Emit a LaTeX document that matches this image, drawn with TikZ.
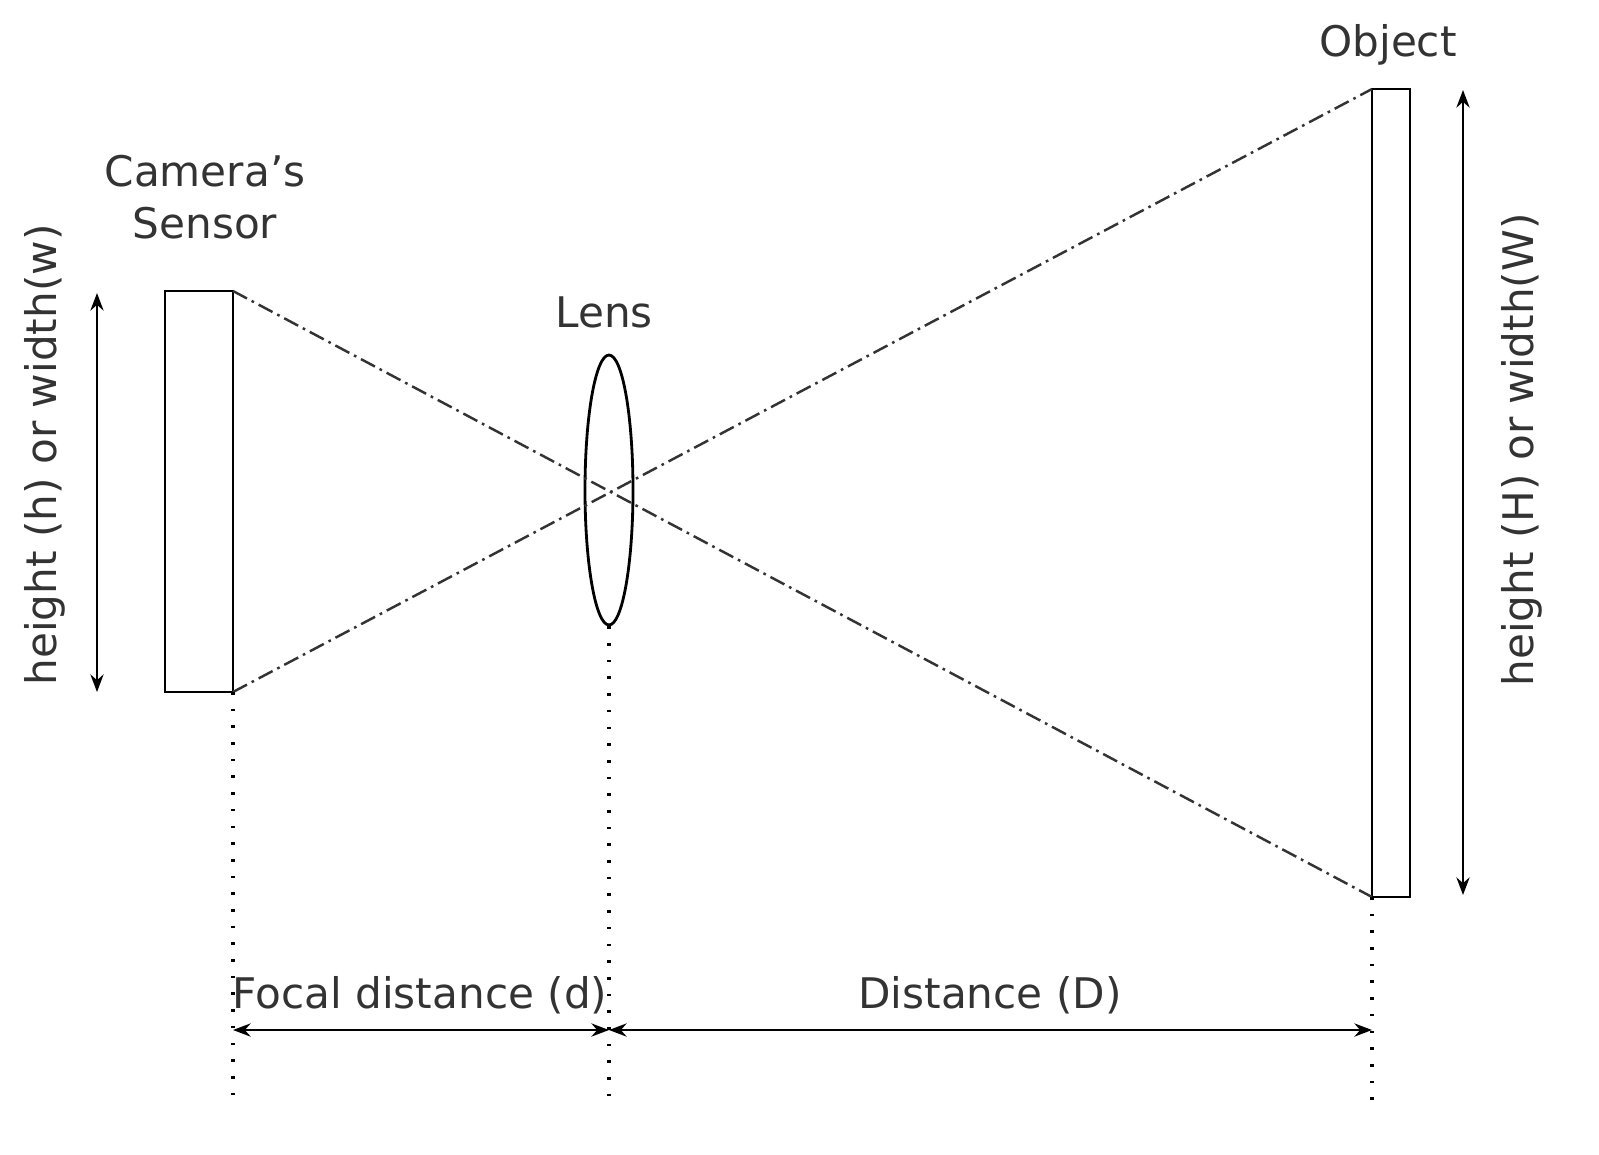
\documentclass[tikz,border=0pt]{standalone}
\usepackage{fontspec}
\setmainfont{DejaVu Sans}
\usetikzlibrary{arrows.meta,shapes.geometric}
\begin{document}
\begin{tikzpicture}[x=0.02cm,y=-0.02cm,
  ray/.style={dash pattern=on 9pt off 3pt on 1.5pt off 3pt,line width=1.4pt,black!80},
  guide/.style={dash pattern=on 1.5pt off 8pt,line width=1.8pt},
  dim/.style={{Stealth[length=10pt]}-{Stealth[length=10pt]},line width=1.4pt},
  lbl/.style={font=\fontsize{24}{30}\selectfont,align=center,text=black!80},
  box/.style={draw,line width=1.6pt}]
\useasboundingbox (0,0) rectangle (1599,1154);
\draw[box] (165,291) rectangle (233,692);
\draw[box] (1372,89) rectangle (1410,897);
\coordinate (s1) at (233,291); \coordinate (s2) at (233,692);
\coordinate (o1) at (1372,89); \coordinate (o2) at (1372,897);
\node[box,ellipse,minimum width=0.96cm,minimum height=5.4cm,inner sep=0] (lens) at (609,490) {};
\draw[ray] (s1) -- (o2);
\draw[ray] (s2) -- (o1);
\coordinate (b1) at (233,1100); \coordinate (b2) at (609,1100); \coordinate (b3) at (1372,1100);
\draw[guide] (s2) -- (b1);
\draw[guide] (lens.south) -- (b2);
\draw[guide] (o2) -- (b3);
\coordinate (d1) at (233,1030); \coordinate (d2) at (609,1030); \coordinate (d3) at (1372,1030);
\draw[dim] (d1) -- (d2);
\draw[dim] (d2) -- (d3);
\node[lbl] (fl) at (420,995) {Focal distance (d)};
\node[lbl] (dl) at (990,995) {Distance (D)};
\coordinate (l1) at (97,293); \coordinate (l2) at (97,692);
\draw[dim] (l1) -- (l2);
\coordinate (r1) at (1463,90); \coordinate (r2) at (1463,895);
\draw[dim] (r1) -- (r2);
\node[lbl,rotate=90] (hl) at (45,455) {height (h) or width(w)};
\node[lbl,rotate=90] (hr) at (1522,450) {height (H) or width(W)};
\node[lbl] (cs) at (205,197) {Camera{\char"27}s\\Sensor};
\node[lbl] (ln) at (604,312) {Lens};
\node[lbl] (ob) at (1388,45) {Object};
\end{tikzpicture}
\end{document}
